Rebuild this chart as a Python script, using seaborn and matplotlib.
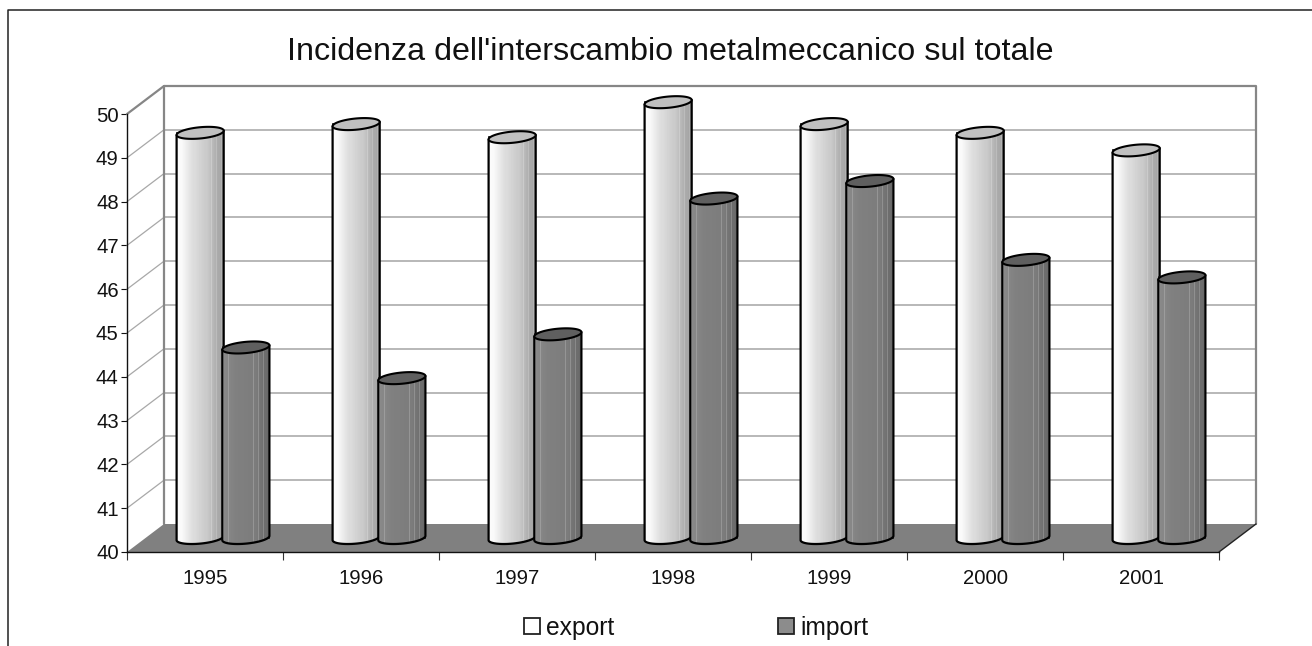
import numpy as np
import pandas as pd
import matplotlib
matplotlib.use("Agg")
import matplotlib.pyplot as plt
import seaborn as sns
from matplotlib.lines import Line2D
from matplotlib.patches import Polygon, PathPatch
from matplotlib.path import Path
from matplotlib.transforms import IdentityTransform, ScaledTranslation

years = ["1995", "1996", "1997", "1998", "1999", "2000", "2001"]
export_vals = [49.25, 49.45, 49.15, 49.95, 49.45, 49.25, 48.85]
import_vals = [44.35, 43.65, 44.65, 47.75, 48.15, 46.35, 45.95]
series_names = ["export", "import"]
title_text = "Incidenza dell'interscambio metalmeccanico sul totale"

W, H = 1312, 646
DPI = 100
sns.set_theme(style="white")
plt.rcParams["font.family"] = ["Liberation Sans", "DejaVu Sans"]

df = pd.DataFrame({
    "year": years * 2,
    "value": export_vals + import_vals,
    "series": [series_names[0]] * 7 + [series_names[1]] * 7,
})

fig = plt.figure(figsize=(W / DPI, H / DPI), dpi=DPI, facecolor="white")
L, R, T, B = 127, 1219, 114, 552
ax = fig.add_axes([L / W, (H - B) / H, (R - L) / W, (B - T) / H])
ax.patch.set_alpha(0)

sns.barplot(data=df, x="year", y="value", hue="series", order=years,
            palette={"export": "#ffffff", "import": "#8c8c8c"},
            width=0.586, edgecolor="#222222", linewidth=1.3, ax=ax, zorder=3)
ax.set_xlim(-0.5, 6.5)
ax.set_ylim(40, 50)
ax.set_xlabel("")
ax.set_ylabel("")

# 3D depth offsets, in pixels
DX, DY = 37, 28
BX, BY = 18, 14
wall = ax.transData + ScaledTranslation(DX / DPI, DY / DPI, fig.dpi_scale_trans)
depth = ax.transData + ScaledTranslation(BX / DPI, BY / DPI, fig.dpi_scale_trans)

yt = np.arange(40, 51)
ax.hlines(yt[1:-1], -0.5, 6.5, transform=wall, colors="#b2b2b2", lw=1.3, clip_on=False, zorder=1)
p0 = ax.transData.transform([(-0.5, y) for y in yt])
for (px, py), y in zip(p0, yt):
    if y in (40, 50):
        continue
    ax.add_line(Line2D([px, px + DX], [py, py + DY], transform=IdentityTransform(),
                       color="#a8a8a8", lw=0.9, clip_on=False, zorder=1))
# back wall frame
ax.plot([-0.5, -0.5, 6.5, 6.5], [40, 50, 50, 40], transform=wall, color="#868686",
        lw=1.6, clip_on=False, zorder=1.2)
top = ax.transData.transform((-0.5, 50))
ax.add_line(Line2D([top[0], top[0] + DX], [top[1], top[1] + DY], transform=IdentityTransform(),
                   color="#868686", lw=1.6, clip_on=False, zorder=1.2))
# floor
fl = ax.transData.transform([(-0.5, 40), (6.5, 40)])
floor_pts = [fl[0], fl[1], fl[1] + [DX, DY], fl[0] + [DX, DY]]
ax.add_patch(Polygon(floor_pts, closed=True, transform=IdentityTransform(), facecolor="#808080",
                     edgecolor="none", clip_on=False, zorder=1.5))
ax.add_line(Line2D([fl[1][0], fl[1][0] + DX], [fl[1][1], fl[1][1] + DY], transform=IdentityTransform(),
                   color="#222222", lw=1.0, clip_on=False, zorder=1.6))

handles, labels = ax.get_legend_handles_labels()


def band(stops, vals, stripes=(), n=46):
    xs = (np.arange(n) + 0.5) / n
    g = np.interp(xs, stops, vals)
    for f, d in stripes:
        g[int(f * n)] += d
    return np.clip(g, 0, 255)[None, :] / 255.0


grads = [band([0, 0.12, 0.35, 0.65, 0.85, 1], [252, 250, 222, 200, 172, 155],
              [(0.72, 14), (0.83, 14), (0.92, 14)]),
         band([0, 0.3, 0.7, 1], [140, 128, 124, 100],
              [(0.06, 30), (0.14, 22), (0.64, 24), (0.74, 24), (0.86, 26), (0.94, 26)])]
caps = ["#c0c0c0", "#5f5f5f"]
A_EXTRA, EB, TILT = 0.8, 5.6, np.deg2rad(5.5)


def ellipse_pts(cx, cy, a, t):
    ex = cx + a * np.cos(t) * np.cos(TILT) - EB * np.sin(t) * np.sin(TILT)
    ey = cy + a * np.cos(t) * np.sin(TILT) + EB * np.sin(t) * np.cos(TILT)
    return np.column_stack([ex, ey])


z = 4.0
n_cat = len(years)
for i in range(n_cat):
    for s, cont in enumerate(ax.containers[:2]):
        bar = cont[i]
        # the value axis starts at 40: the column stands on the chart floor
        top_val = bar.get_height()
        bar.set_y(40)
        bar.set_height(top_val - 40)
        bar.set_transform(depth)
        bar.set_clip_on(False)
        bar.set_zorder(z)
        x0, w = bar.get_x(), bar.get_width()
        (xa, yb), (xb, yt_) = depth.transform([(x0, 40), (x0 + w, top_val)])
        cx, a = (xa + xb) / 2, (xb - xa) / 2 + A_EXTRA
        lower = ellipse_pts(cx, yb, a, np.linspace(np.pi, 2 * np.pi, 50))
        upper = ellipse_pts(cx, yt_, a, np.linspace(0, np.pi, 50))
        body = np.vstack([lower, upper, lower[:1]])
        patch = PathPatch(Path(body), transform=IdentityTransform(), facecolor="none",
                          edgecolor="none", clip_on=False, zorder=z + 0.1)
        ax.add_patch(patch)
        im = ax.imshow(grads[s], cmap="gray", vmin=0, vmax=1, aspect="auto",
                       extent=[cx - a - 1, cx + a + 1, yb - 12, yt_ + 12],
                       transform=IdentityTransform(), zorder=z + 0.2, interpolation="nearest")
        im.set_clip_box(fig.bbox)
        im.set_clip_path(patch)
        side = np.vstack([upper[-1:], lower, upper[:1]])
        ax.add_line(Line2D(side[:, 0], side[:, 1], transform=IdentityTransform(),
                           color="black", lw=1.6, clip_on=False, zorder=z + 0.3))
        cap = ellipse_pts(cx, yt_, a, np.linspace(0, 2 * np.pi, 90))
        ax.add_patch(Polygon(cap, closed=True, transform=IdentityTransform(), facecolor=caps[s],
                             edgecolor="black", lw=1.5, clip_on=False, zorder=z + 0.4))
        z += 1

ax.set_xlim(-0.5, 6.5)
ax.set_ylim(40, 50)

for sp in ("top", "right"):
    ax.spines[sp].set_visible(False)
for sp in ("left", "bottom"):
    ax.spines[sp].set_color("#111111")
    ax.spines[sp].set_linewidth(1.0)
    ax.spines[sp].set_zorder(2)
ax.set_yticks(yt)
ax.set_xticks(np.arange(n_cat))
ax.set_xticklabels(years)
ax.set_xticks(np.arange(-0.5, n_cat), minor=True)
ax.tick_params(axis="x", which="major", length=0, pad=12, labelsize=14.6, colors="#111111")
ax.tick_params(axis="x", which="minor", length=6, width=0.8, color="#333333", bottom=True)
ax.tick_params(axis="y", length=4, width=0.8, pad=2, labelsize=14.6, left=True, color="#111111", labelcolor="#111111")
ax.grid(False)

fig.text(670 / W, (H - 52.5) / H, title_text, ha="center", va="center", fontsize=23.2, color="#111111")

fig.add_artist(Line2D([8 / W, 8 / W, 1], [0, (H - 10) / H, (H - 10) / H], transform=fig.transFigure,
                      color="#222222", lw=1.1))

if ax.get_legend() is not None:
    ax.get_legend().remove()
leg = fig.legend(handles, labels, ncol=2, frameon=False, fontsize=17.7, loc="center left",
                 bbox_to_anchor=(524 / W, (H - 628) / H), handlelength=0.66, handleheight=0.62,
                 handletextpad=0.25, columnspacing=6.65, borderpad=0, borderaxespad=0)
for t in leg.get_texts():
    t.set_color("#111111")

fig.savefig("out.png", dpi=DPI, facecolor="white")
